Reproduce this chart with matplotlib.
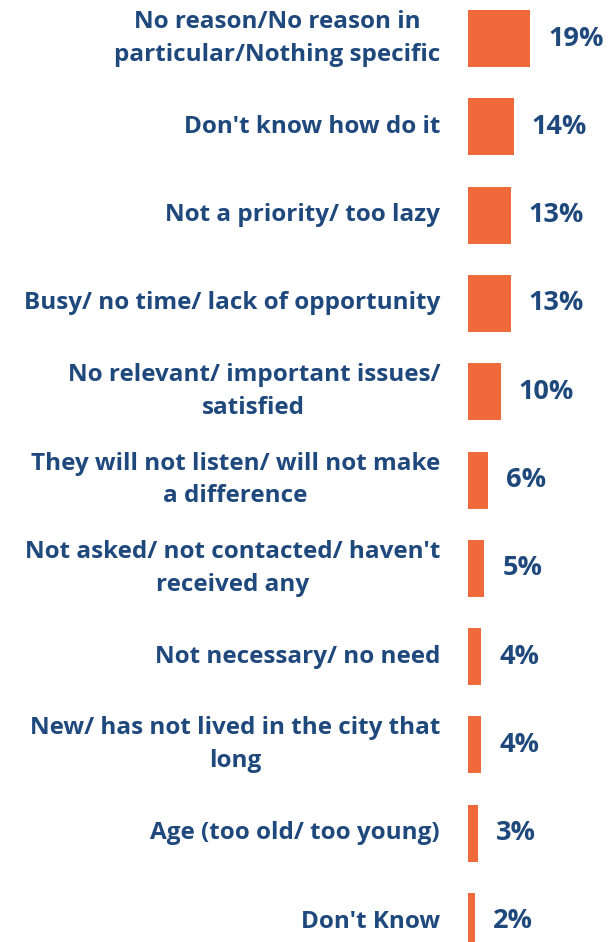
import matplotlib.pyplot as plt
import matplotlib.transforms as mtransforms

reasons = [
    "No reason/No reason in\nparticular/Nothing specific",
    "Don't know how do it",
    "Not a priority/ too lazy",
    "Busy/ no time/ lack of opportunity",
    "No relevant/ important issues/\nsatisfied",
    "They will not listen/ will not make\na difference",
    "Not asked/ not contacted/ haven't\nreceived any",
    "Not necessary/ no need",
    "New/ has not lived in the city that\nlong",
    "Age (too old/ too young)",
    "Don't Know",
]
shares = [19, 14, 13, 13, 10, 6, 5, 4, 4, 3, 2]

bar_color = "#F0693A"
text_color = "#1F497D"

W, H = 615, 942
fig = plt.figure(figsize=(W / 100, H / 100), dpi=100)
ax = fig.add_axes([468 / W, 0, 1 - 468 / W, 1])

pitch = 88.3
first = 38.5
ypos = list(range(len(shares)))
ax.barh(ypos, shares, height=57 / pitch, color=bar_color)
ax.set_xlim(0, (W - 468) / 3.27)
ax.set_ylim((H - first) / pitch, -first / pitch)
ax.axis("off")

# category labels sit to the left of the bars
trans = mtransforms.blended_transform_factory(fig.transFigure, ax.transData)
for y, name in zip(ypos, reasons):
    ax.text(440 / W, y, name, transform=trans, ha="right", va="center",
            multialignment="center", fontsize=17.5, fontweight="bold",
            color=text_color, family="Open Sans", linespacing=1.5)

for y, v in zip(ypos, shares):
    ax.annotate(f"{v}%", xy=(v, y), xytext=(13, 0), textcoords="offset points",
                ha="left", va="center", fontsize=19.5, fontweight="bold",
                color=text_color, family="Open Sans")

fig.savefig("out.png", dpi=100)
